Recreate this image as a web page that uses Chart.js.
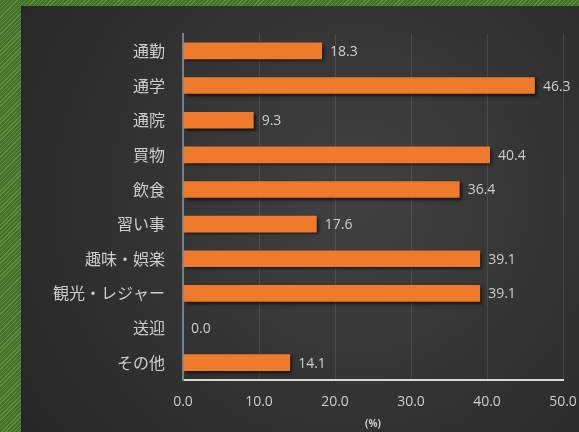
<!DOCTYPE html>
<html>
<head>
<meta charset="utf-8">
<script src="https://cdn.jsdelivr.net/npm/chart.js@4.4.1/dist/chart.umd.min.js"></script>
<style>
  html, body { margin: 0; padding: 0; }
  body {
    width: 579px; height: 432px; overflow: hidden; position: relative;
    background: repeating-linear-gradient(-45deg, #5f8f40 0px, #5f8f40 1px, #44702c 1px, #44702c 3px);
  }
  #wrap { position: absolute; left: 21px; top: 6px; width: 558px; height: 426px; }
</style>
</head>
<body>
<div id="wrap"><canvas id="chart" width="558" height="426"></canvas></div>
<script>
const categories = ['通勤', '通学', '通院', '買物', '飲食', '習い事', '趣味・娯楽', '観光・レジャー', '送迎', 'その他'];
const values = [18.3, 46.3, 9.3, 40.4, 36.4, 17.6, 39.1, 39.1, 0.0, 14.1];
const xTicks = [0, 10, 20, 30, 40, 50];

const textColor = '#cdcdcd';
const jpFont = "'Noto Sans CJK JP', 'Noto Sans', sans-serif";

// dark panel behind the chart
const panelBackground = {
    id: 'panelBackground',
    beforeDraw(chart) {
        const ctx = chart.ctx;
        const w = chart.width, h = chart.height;
        const g = ctx.createRadialGradient(w * 0.6, h * 0.45, 20, w * 0.6, h * 0.45, w * 0.75);
        g.addColorStop(0, '#404040');
        g.addColorStop(1, '#252525');
        ctx.save();
        ctx.fillStyle = g;
        ctx.fillRect(0, 0, w, h);
        ctx.restore();
    }
};

// drop shadow on bars + value labels at bar ends
const barDecor = {
    id: 'barDecor',
    beforeDatasetsDraw(chart) {
        const ctx = chart.ctx;
        ctx.save();
        ctx.shadowColor = 'rgba(0,0,0,0.7)';
        ctx.shadowBlur = 3;
        ctx.shadowOffsetX = 2;
        ctx.shadowOffsetY = 2;
    },
    afterDatasetsDraw(chart) {
        const ctx = chart.ctx;
        ctx.restore();
        const meta = chart.getDatasetMeta(0);
        ctx.save();
        ctx.font = "14px 'Open Sans', sans-serif";
        ctx.fillStyle = textColor;
        ctx.textBaseline = 'middle';
        ctx.textAlign = 'left';
        meta.data.forEach((bar, i) => {
            ctx.fillText(values[i].toFixed(1), bar.x + 8, bar.y + 1);
        });
        ctx.restore();
    }
};

new Chart(document.getElementById('chart'), {
    type: 'bar',
    data: {
        labels: categories,
        datasets: [{
            data: values,
            backgroundColor: '#ef7a2c',
            borderWidth: 0,
            categoryPercentage: 1,
            barPercentage: 0.48
        }]
    },
    plugins: [panelBackground, barDecor],
    options: {
        indexAxis: 'y',
        responsive: false,
        devicePixelRatio: 1,
        animation: false,
        layout: { padding: { left: 0, top: 17, right: 16, bottom: 0 } },
        plugins: {
            legend: { display: false },
            tooltip: { enabled: false }
        },
        scales: {
            x: {
                min: xTicks[0],
                max: xTicks[xTicks.length - 1],
                afterBuildTicks(scale) {
                    scale.ticks = xTicks.map(v => ({ value: v }));
                },
                afterFit(scale) {
                    scale.height = 52;
                    // let the last tick label run past the plot edge
                    scale.paddingLeft = 0;
                    scale.paddingRight = 0;
                },
                ticks: {
                    color: textColor,
                    font: { size: 14, family: "'Open Sans', sans-serif" },
                    padding: 14,
                    maxRotation: 0,
                    callback: v => Number(v).toFixed(1)
                },
                grid: {
                    drawTicks: false,
                    color: ctx => ctx.index === 0 ? 'rgba(0,0,0,0)' : 'rgba(255,255,255,0.1)'
                },
                border: { color: '#d8d8d8', width: 2 },
                title: {
                    display: true,
                    text: '(%)',
                    color: textColor,
                    font: { size: 10, weight: 'bold', family: "'Open Sans', sans-serif" },
                    padding: { top: 0, bottom: 2 }
                }
            },
            y: {
                afterFit(scale) { scale.width = 162; },
                ticks: {
                    color: textColor,
                    font: { size: 16, family: jpFont },
                    padding: 18
                },
                grid: { display: false, drawTicks: false },
                border: { color: '#74808a', width: 2 }
            }
        }
    }
});
</script>
</body>
</html>
